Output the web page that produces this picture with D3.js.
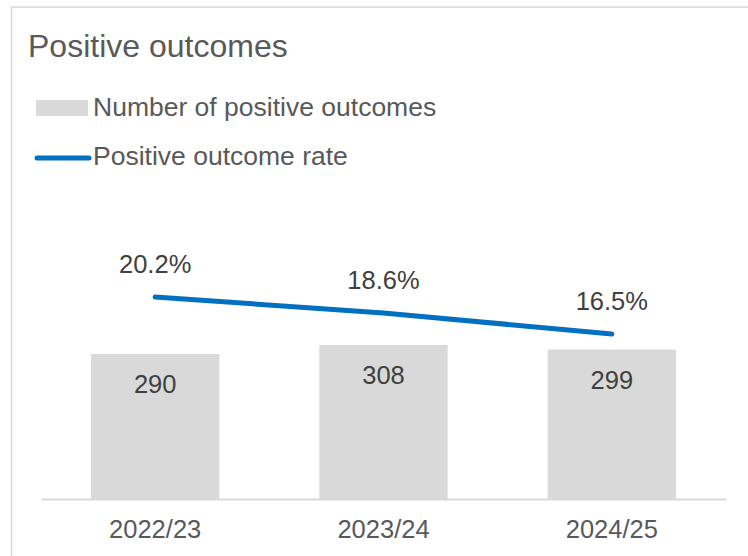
<!DOCTYPE html>
<html>
<head>
<meta charset="utf-8">
<script src="https://cdn.jsdelivr.net/npm/d3@7"></script>
<style>
  body { margin: 0; background: #fff; }
  text { font-family: Arial, "Liberation Sans", sans-serif; }
</style>
</head>
<body>
<script>
// chart data
var years = ['2022/23', '2023/24', '2024/25'];
var outcomes = [290, 308, 299];
var rates = [20.2, 18.6, 16.5];
var seriesNames = ['Number of positive outcomes', 'Positive outcome rate'];

var width = 748, height = 556;
var svg = d3.select('body').append('svg').attr('width', width).attr('height', height);

// chart frame
svg.append('rect')
  .attr('x', 11.5).attr('y', 7)
  .attr('width', 760).attr('height', 600)
  .attr('fill', 'none').attr('stroke', '#d9d9d9').attr('stroke-width', 1.5);

svg.append('text')
  .attr('x', 28).attr('y', 57)
  .attr('font-size', 32).attr('fill', '#595959')
  .text('Positive outcomes');

// legend
svg.append('rect').attr('x', 36).attr('y', 100).attr('width', 52).attr('height', 16).attr('fill', '#d9d9d9');
svg.append('text').attr('x', 93).attr('y', 116).attr('font-size', 26.5).attr('fill', '#595959').text(seriesNames[0]);
svg.append('line').attr('x1', 37).attr('x2', 89).attr('y1', 158).attr('y2', 158)
  .attr('stroke', '#0070c0').attr('stroke-width', 5).attr('stroke-linecap', 'round');
svg.append('text').attr('x', 93).attr('y', 165).attr('font-size', 26.5).attr('fill', '#595959').text(seriesNames[1]);

// scales
var x = d3.scaleBand().domain(years).range([41, 726]).paddingInner(0.438).paddingOuter(0.219);
var y = d3.scaleLinear().domain([0, 600]).range([499, 199]);
var y2 = d3.scaleLinear().domain([0, 30]).range([499, 199]);

// bars
svg.selectAll('.bar')
  .data(outcomes)
  .enter().append('rect')
  .attr('class', 'bar')
  .attr('x', function (d, i) { return x(years[i]); })
  .attr('y', function (d) { return y(d); })
  .attr('width', x.bandwidth())
  .attr('height', function (d) { return y(0) - y(d); })
  .attr('fill', '#d9d9d9');

svg.selectAll('.barlabel')
  .data(outcomes)
  .enter().append('text')
  .attr('class', 'barlabel')
  .attr('x', function (d, i) { return x(years[i]) + x.bandwidth() / 2; })
  .attr('y', function (d) { return y(d) + 39; })
  .attr('text-anchor', 'middle')
  .attr('font-size', 25.5).attr('fill', '#404040')
  .text(function (d) { return d; });

// x axis
var xAxis = svg.append('g')
  .attr('transform', 'translate(0,499)')
  .call(d3.axisBottom(x).tickSize(0).tickPadding(39));
xAxis.select('.domain').attr('stroke', '#d9d9d9').attr('stroke-width', 2);
xAxis.selectAll('text')
  .attr('font-size', 25.5).attr('fill', '#595959')
  .attr('font-family', 'Arial, "Liberation Sans", sans-serif')
  .attr('dy', 0);

// rate line
var line = d3.line()
  .x(function (d, i) { return x(years[i]) + x.bandwidth() / 2; })
  .y(function (d) { return y2(d); });

svg.append('path')
  .datum(rates)
  .attr('d', line)
  .attr('fill', 'none')
  .attr('stroke', '#0070c0')
  .attr('stroke-width', 5)
  .attr('stroke-linecap', 'round');

svg.selectAll('.ratelabel')
  .data(rates)
  .enter().append('text')
  .attr('class', 'ratelabel')
  .attr('x', function (d, i) { return x(years[i]) + x.bandwidth() / 2; })
  .attr('y', function (d) { return y2(d) - 24; })
  .attr('text-anchor', 'middle')
  .attr('font-size', 25.5).attr('fill', '#404040')
  .text(function (d) { return d.toFixed(1) + '%'; });
</script>
</body>
</html>
